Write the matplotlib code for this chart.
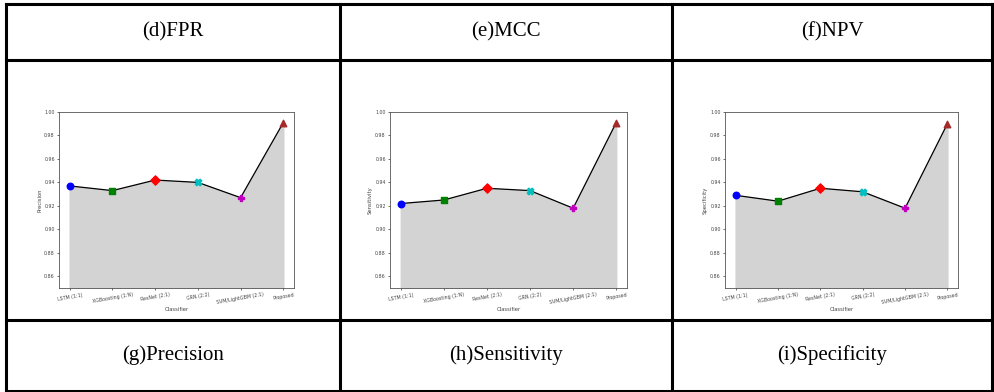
import numpy as np
import matplotlib
matplotlib.use("Agg")
import matplotlib.pyplot as plt
from matplotlib.lines import Line2D

# ---------------------------------------------------------------------------
# Data
# ---------------------------------------------------------------------------
classifiers = ["LSTM (1:1)", "XGBoosting (1:N)", "ResNet (2:1)", "GRN (2:2)",
               "SVM/LightGBM (2:1)", "Proposed"]
precision = [0.937, 0.933, 0.942, 0.940, 0.927, 0.991]
sensitivity = [0.922, 0.925, 0.935, 0.933, 0.918, 0.991]
specificity = [0.929, 0.924, 0.935, 0.932, 0.918, 0.990]
y_labels = ["Precision", "Sensitivity", "Specificity"]
header_titles = ["(d)FPR", "(e)MCC", "(f)NPV"]
footer_titles = ["(g)Precision", "(h)Sensitivity", "(i)Specificity"]
y_ticks = [0.86, 0.88, 0.90, 0.92, 0.94, 0.96, 0.98, 1.00]

markers = ["o", "s", "D", "X", "P", "^"]
marker_colors = ["blue", "green", "red", "c", "m", "brown"]

W, H = 994, 392
fig = plt.figure(figsize=(W / 100, H / 100), dpi=100)
fig.patch.set_facecolor("white")

# ---------------------------------------------------------------------------
# Table grid (pixel coordinates -> figure fraction)
# ---------------------------------------------------------------------------
col_x = [6, 340, 672, 992]
row_y = [4, 60, 320, 391]


def fx(px):
    return px / W


def fy(py):
    return 1 - py / H


for y in row_y:
    fig.add_artist(Line2D([fx(col_x[0]), fx(col_x[-1])], [fy(y), fy(y)],
                          color="black", linewidth=2.2, transform=fig.transFigure))
for x in col_x:
    fig.add_artist(Line2D([fx(x), fx(x)], [fy(row_y[0]), fy(row_y[-1])],
                          color="black", linewidth=2.2, transform=fig.transFigure))

for i in range(3):
    cx = (col_x[i] + col_x[i + 1]) / 2
    fig.text(fx(cx), fy((row_y[0] + row_y[1]) / 2), header_titles[i],
             ha="center", va="center", fontsize=15, family="Liberation Serif")
    fig.text(fx(cx), fy((row_y[2] + row_y[3]) / 2), footer_titles[i],
             ha="center", va="center", fontsize=15, family="Liberation Serif")

# ---------------------------------------------------------------------------
# Small line charts in the middle row
# ---------------------------------------------------------------------------
axes_px = [(59, 294), (390, 627), (725, 958)]
ax_top, ax_bot = 112, 288
series = [precision, sensitivity, specificity]

for (l, r), vals, ylab in zip(axes_px, series, y_labels):
    ax = fig.add_axes([fx(l), fy(ax_bot), (r - l) / W, (ax_bot - ax_top) / H])
    x = np.arange(len(classifiers))
    ax.fill_between(x, vals, 0.85, color="lightgray")
    ax.plot(x, vals, color="black", linewidth=0.9)
    for xi, v, m, c in zip(x, vals, markers, marker_colors):
        ax.scatter(xi, v, marker=m, color=c, s=22, zorder=3)
    ax.set_xlim(-0.25, 5.25)
    ax.set_ylim(0.85, 1.00)
    ax.set_yticks(y_ticks)
    ax.set_yticklabels([f"{t:.2f}" for t in y_ticks], fontsize=3.4, color="#444444")
    ax.set_xticks(x)
    ax.set_xticklabels(classifiers, fontsize=3.4, rotation=10, color="#444444")
    ax.tick_params(length=1.5, width=0.4, pad=1.5)
    ax.set_xlabel("Classifier", fontsize=3.8, labelpad=1.5, color="#444444")
    ax.set_ylabel(ylab, fontsize=3.8, labelpad=1.5, color="#444444")
    for s in ax.spines.values():
        s.set_linewidth(0.6)
        s.set_color("#555555")

fig.savefig("out.png", dpi=100, facecolor="white")
